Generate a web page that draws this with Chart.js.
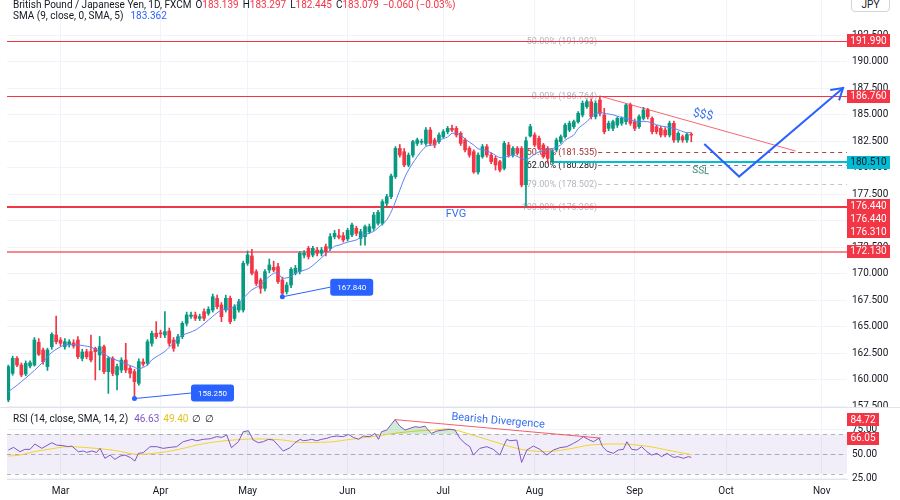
<!DOCTYPE html>
<html>
<head>
<meta charset="utf-8">
<script src="https://cdn.jsdelivr.net/npm/chart.js@4.4.1/dist/chart.umd.min.js"></script>
<style>
  html, body { margin:0; padding:0; background:#ffffff; }
  body { width:900px; height:500px; position:relative; overflow:hidden; font-family: Roboto, "Liberation Sans", Arial, sans-serif; }
  #mainWrap { position:absolute; left:0; top:0; width:900px; height:407px; }
  #rsiWrap { position:absolute; left:0; top:407px; width:900px; height:93px; }
  .lg { position:absolute; left:13px; font-size:10px; line-height:12px; color:#131722; white-space:nowrap; }
  .lg .g { margin-left:4px; }
  .dn { color:#f23645; }
  .blue { color:#2962ff; }
  .pur { color:#7e57c2; }
  .yel { color:#e3c31b; }
  #jpy { position:absolute; left:851px; top:-6px; width:39px; height:18px; border:1px solid #d1d4dc; border-radius:4px; box-sizing:border-box; font-size:10px; line-height:20px; text-align:center; color:#131722; background:#fff; }
</style>
</head>
<body>
<div id="mainWrap"><canvas id="mainChart"></canvas></div>
<div id="rsiWrap"><canvas id="rsiChart"></canvas></div>
<div class="lg" style="top:-1px">British Pound / Japanese Yen, 1D, FXCM<span class="g">O<span class="dn">183.139</span></span><span class="g">H<span class="dn">183.297</span></span><span class="g">L<span class="dn">182.445</span></span><span class="g">C<span class="dn">183.079</span></span><span class="g dn">−0.060 (−0.03%)</span></div>
<div class="lg" style="top:10px">SMA (9, close, 0, SMA, 5)<span class="g blue" style="margin-left:7px">183.362</span></div>
<div class="lg" style="top:413px">RSI (14, close, SMA, 14, 2)<span class="g pur" style="margin-left:6px">46.63</span><span class="g yel">49.40</span><span class="g">∅</span><span class="g">∅</span></div>
<div id="jpy">JPY</div>
<script>
// ---------------- data ----------------
const opens = [158.12,160.63,162.04,161.41,160.57,161.32,161.41,163.55,162.83,161.26,163.14,164.24,163.77,163.14,163.30,163.50,163.77,162.04,162.67,162.67,
162.98,162.36,163.14,160.79,162.04,160.47,160.94,161.88,161.10,160.79,159.69,161.70,161.57,163.46,164.40,164.45,164.24,164.62,163.77,163.46,
164.08,165.34,166.00,166.13,165.81,166.44,166.28,166.60,167.70,167.07,166.60,167.70,165.81,166.60,166.60,171.00,171.69,170.21,169.43,168.64,
170.37,170.62,170.68,169.43,168.33,168.95,170.05,170.21,171.78,172.41,171.78,172.25,171.94,172.57,172.41,173.51,173.60,173.60,173.30,173.67,
174.30,173.35,173.51,173.98,174.30,174.77,174.77,176.65,177.28,179.17,181.83,181.52,180.26,181.20,182.30,182.40,182.30,183.56,182.62,182.46,
182.93,183.40,183.72,183.72,183.25,182.62,181.83,181.52,179.60,181.05,181.99,181.20,180.89,180.58,179.95,182.15,181.20,181.83,181.83,178.40,
183.00,183.09,182.78,182.15,181.83,180.58,181.68,182.46,182.93,183.56,183.88,184.35,184.98,185.76,186.23,184.82,186.39,184.98,183.72,183.72,
184.03,184.19,184.35,185.92,184.35,183.88,184.66,185.45,184.66,183.88,183.72,183.56,183.09,184.19,182.62,182.93,182.62,183.139];
const highs = [161.40,162.25,162.20,161.60,161.80,161.80,164.00,163.90,163.00,163.00,164.45,166.03,164.00,163.90,163.80,163.80,164.10,162.90,162.90,164.24,
163.10,164.10,163.30,162.20,162.20,161.50,162.10,163.46,161.30,161.00,162.00,162.00,163.80,164.60,165.50,164.70,166.44,164.90,164.00,164.30,
165.50,166.40,166.40,166.40,166.20,166.70,166.90,168.10,168.00,167.30,168.00,167.90,167.10,167.60,171.20,172.16,172.32,170.40,169.60,170.40,
171.40,171.20,171.00,169.70,169.20,170.60,170.80,172.10,172.20,172.60,172.60,172.50,172.50,172.80,173.80,174.10,174.20,173.90,174.30,174.80,
174.50,174.20,174.60,174.70,175.80,176.00,177.00,177.50,179.40,182.00,182.20,181.80,181.40,182.60,182.80,182.70,183.80,183.80,182.80,183.30,
183.60,183.90,184.03,183.90,183.40,182.80,182.00,181.70,181.40,182.20,182.20,181.40,181.10,180.70,182.50,182.40,182.00,182.00,182.00,182.90,
184.10,183.30,183.00,182.30,182.00,181.70,182.80,183.10,184.20,184.40,184.50,185.30,186.30,186.40,186.50,186.30,186.76,185.60,184.40,184.50,
184.80,184.80,186.00,186.10,184.60,185.00,185.70,185.60,184.80,184.00,183.90,183.80,184.40,184.40,183.40,183.10,183.30,183.297];
const lows = [157.95,160.45,161.25,160.30,160.40,161.15,161.30,162.30,161.50,160.90,162.90,163.40,163.20,162.90,163.10,163.00,162.00,161.80,162.00,161.70,
160.00,160.94,160.60,158.74,160.40,159.06,160.70,160.70,160.20,158.25,159.50,161.30,161.40,163.20,163.90,164.00,164.00,163.20,162.70,163.20,
163.90,165.10,165.80,165.60,165.60,165.60,166.10,166.40,166.70,165.50,166.40,165.30,165.60,166.40,166.40,170.80,169.90,168.90,168.17,168.40,
170.10,170.20,169.10,167.84,168.10,168.70,169.90,170.00,171.50,171.40,171.60,171.70,171.70,171.70,172.20,173.30,173.30,173.00,173.10,173.50,
173.60,172.70,172.70,173.80,174.10,174.60,174.60,176.40,177.10,179.00,181.00,180.10,180.10,181.00,182.10,182.20,182.10,182.10,181.90,182.30,
182.80,183.20,183.40,182.90,182.10,181.50,181.00,179.48,179.40,180.90,181.00,180.40,179.79,179.60,179.80,181.00,181.00,181.20,178.20,176.31,
182.90,182.00,181.70,180.90,180.42,180.51,181.50,182.30,182.80,183.40,183.70,184.20,184.80,185.60,184.60,184.60,184.90,183.20,183.50,183.50,
183.80,184.00,184.10,184.00,183.50,183.70,184.50,184.60,183.20,183.20,182.90,182.90,182.90,182.40,182.40,182.40,182.40,182.445];
const closes = [161.26,162.04,161.41,160.47,161.57,161.63,163.77,162.42,161.73,162.83,164.30,163.61,163.46,163.61,163.60,163.20,162.20,162.64,162.20,161.89,
162.67,163.14,160.79,162.04,160.63,161.26,161.88,160.94,160.63,159.84,161.73,161.50,163.61,164.40,164.08,164.35,164.56,163.46,162.98,164.08,
165.34,166.13,166.13,165.81,165.97,165.81,166.66,167.85,166.91,165.97,167.70,165.50,166.91,167.38,171.00,171.78,170.05,169.10,168.64,170.21,
170.84,170.37,169.27,168.17,168.95,170.43,170.53,171.94,171.94,171.63,172.41,171.94,172.25,172.10,173.51,173.82,173.45,173.20,174.10,174.61,
173.82,173.98,174.45,174.45,175.55,175.80,176.81,177.28,179.23,181.83,181.20,180.26,181.20,182.46,182.62,182.50,183.56,182.30,182.15,183.09,
183.40,183.72,183.56,183.09,182.30,181.68,181.20,179.60,181.20,181.99,181.20,180.58,180.26,179.79,182.30,181.20,181.83,181.36,178.38,182.55,
183.88,182.15,181.83,181.05,180.89,181.52,182.62,182.93,184.03,184.19,184.35,185.13,186.08,186.23,184.82,186.08,185.13,183.40,184.19,184.35,
184.66,184.66,185.92,184.19,183.72,184.82,185.45,184.82,183.40,183.40,183.09,183.09,184.19,182.62,183.25,182.62,183.139,183.079];

// SMA(9): [bar, value]
const smaPts = [[0,158.9],[2,159.5],[6,160.9],[8,161.7],[10,162.6],[13,163.3],[16,163.3],[19,163.1],[20,162.9],[22,162.5],[23,162.2],[24,162.0],[26,161.7],[29,161.2],[30,161.05],[32,161.4],[33,161.9],[36,162.7],[38,163.5],[40,164.2],[43,164.7],[45,165.3],[47,166.0],[49,166.6],[51,166.75],[52,166.9],[54,167.7],[56,168.5],[58,168.95],[59,169.4],[61,170.05],[62,170.05],[63,169.6],[65,169.75],[66,170.1],[69,170.5],[71,171.15],[73,171.9],[75,172.6],[76,172.7],[78,173.0],[80,173.2],[82,173.7],[84,174.0],[85,174.35],[87,175.1],[88.5,176.3],[90,177.9],[91.6,179.5],[94,181.05],[96,182.0],[98,182.2],[99,182.6],[101,182.9],[102,183.25],[104,183.1],[105,182.7],[107,182.15],[108,181.8],[110,181.6],[111.5,181.3],[113,180.96],[114.6,181.05],[116,181.2],[117.6,180.96],[119,180.74],[120.7,181.2],[122,181.5],[124,181.7],[125,181.8],[127,182.15],[128,182.6],[130,183.1],[131,183.7],[133,184.35],[134.5,185.0],[136,185.2],[137.5,185.1],[139,185.0],[140.5,184.8],[142,184.66],[143.7,184.44],[145,184.35],[147,184.35],[148,184.2],[150,183.94],[151,183.88],[153,183.72],[154.5,183.5],[156,183.3],[157,183.36]];

// RSI(14) and its SMA(14): [bar, value]
const rsiPts = [[0,54.0],[1.2,56.7],[2.7,52.3],[3.8,54.7],[5,54.7],[6.1,60.1],[7.7,55.7],[10,61.4],[11.1,59.0],[12.6,58.4],[13.8,57.4],[14.6,58.0],[16.1,52.3],[17.3,53.0],[18,51.6],[19.2,53.0],[20.3,51.6],[21.1,55.7],[22.2,45.6],[23.4,48.9],[24.5,44.6],[25.7,47.9],[26.8,48.9],[28,46.6],[29.1,42.9],[29.9,50.6],[31,51.3],[32.6,57.4],[34.1,57.4],[35.6,55.7],[37.2,56.7],[38.7,57.4],[40.2,62.4],[42.2,64.8],[43.3,63.4],[44.8,64.8],[46.4,65.4],[47.9,67.5],[49.1,66.8],[50.2,69.2],[51.3,56.4],[52.9,62.4],[54,72.5],[55.2,73.5],[56.3,64.1],[57.5,61.4],[58.6,62.4],[59.8,64.8],[60.9,64.1],[62.1,58.4],[63.2,53.0],[64.8,56.4],[65.9,61.4],[67.1,64.8],[67.8,63.4],[69,64.1],[69.7,64.8],[70.9,63.4],[72,64.8],[73.2,65.8],[74.3,67.5],[75.5,68.1],[77,67.5],[78.2,69.8],[79.3,66.8],[80.5,64.8],[81.6,68.1],[83.1,67.5],[84.3,70.8],[85.1,64.8],[85.8,72.5],[87,74.2],[88.9,84.7],[90,78.2],[91.2,74.2],[92.3,75.9],[93.5,77.6],[94.6,76.9],[95.8,78.2],[96.2,75.9],[97.3,70.8],[98.5,73.2],[100,74.2],[101.6,74.9],[102.7,74.2],[103.8,65.8],[105,60.7],[106.1,57.4],[106.9,48.9],[108.4,55.7],[110,57.4],[111.5,54.7],[113,48.9],[113.8,57.4],[114.6,64.8],[115.3,63.4],[116.9,64.1],[118,41.5],[119.2,54.0],[120.7,58.0],[122.2,54.7],[123.8,48.9],[125.3,54.0],[126.8,56.4],[128.4,57.4],[129.9,60.7],[131,63.4],[132.2,67.5],[133.3,64.8],[134.5,62.4],[135.8,66.0],[136.6,57.4],[137.6,53.0],[139.1,50.6],[140.2,54.0],[141.4,54.7],[142.2,62.4],[143.3,54.7],[144.5,54.0],[145.6,57.4],[146.8,52.3],[147.9,48.9],[149.1,50.6],[150.2,47.3],[151.4,50.6],[152.9,46.6],[154,47.3],[155.2,45.6],[156.3,47.3],[157,46.63]];
const rsiSmaPts = [[0,47.9],[2.7,48.9],[5.8,52.3],[9.6,55.0],[13.4,57.4],[17.2,56.7],[21.1,55.3],[24.9,53.3],[28.7,50.0],[30.3,49.6],[33.3,50.6],[36.4,52.3],[40.2,55.7],[44.1,59.7],[47.9,62.4],[51.7,64.1],[55.6,65.1],[59.4,65.1],[63.2,64.1],[67.1,61.7],[70.9,61.7],[74.7,62.4],[78.6,64.8],[82.4,66.8],[86.2,69.2],[90,71.5],[93.9,73.2],[97.7,74.2],[101.6,75.2],[109.2,65.8],[116.9,55.7],[123,52.3],[128.4,54.7],[133.7,59.0],[141.4,60.1],[147.5,57.4],[151.4,54.0],[157,49.4]];

// axes
const monthTickIdx = [12,35,55,78,100,121,144,165,187];
const monthLabels = ['Mar','Apr','May','Jun','Jul','Aug','Sep','Oct','Nov'];
const priceTicks = [157.5,160,162.5,165,167.5,170,172.5,175,177.5,180,182.5,185,187.5,190,192.5];
const rsiTicks = [25,50,75];

// drawings (in bar / price units)
const levelLines = [191.99,186.76,176.44,176.31,172.13];
const levelTags = [191.99,186.76,176.44,176.44,176.31,172.13];
const supportPrice = 180.51;
const supportFromBar = 125;
const fibPrices = [191.993,186.764,181.535,180.280,178.502,176.306];
const fibRatios = ['50.00%','0.00%','50.00%','62.00%','79.00%','100.00%'];
const fibFromBar = 135.6;
const trendLine = [[136,186.76],[181,181.58]];
const projection = [[160,182.25],[168,179.17],[191.9,187.52]];
const swingLows = [[29,158.25],[63,167.84]];
const swingTagAt = [[42,158.77],[74,168.75]];
const notes = [['FVG',102.9,175.65],['$$$',159.7,184.98],['SSL',159.2,179.7]];
const divergence = [[88.9,84.72],[136.2,66.05]];
const divergenceNote = ['Bearish Divergence',112.6,83.3];
const rsiBands = [70,50,30];

// ---------------- rendering ----------------
const UP = '#089981', DOWN = '#f23645', GRID = '#f0f3fa', TXT = '#131722';
const X_MIN = -0.3, X_MAX = 192.8;
const barColors = closes.map((c,i) => c >= opens[i] ? UP : DOWN);
const noPad = s => { s.paddingTop = 0; s.paddingBottom = 0; s.paddingLeft = 0; s.paddingRight = 0; };
const FONT = 'Roboto, "Liberation Sans", Arial, sans-serif';

function tag(ctx, x, y, w, h, bg, fg, text) {
  ctx.fillStyle = bg;
  ctx.fillRect(x, Math.round(y - h/2), w, h);
  ctx.fillStyle = fg;
  ctx.font = '10px ' + FONT;
  ctx.textAlign = 'center'; ctx.textBaseline = 'middle';
  ctx.fillText(text, x + w/2, Math.round(y) + 0.5);
}
function roundRect(ctx, x, y, w, h, r) {
  ctx.beginPath();
  ctx.moveTo(x+r, y); ctx.lineTo(x+w-r, y); ctx.quadraticCurveTo(x+w, y, x+w, y+r);
  ctx.lineTo(x+w, y+h-r); ctx.quadraticCurveTo(x+w, y+h, x+w-r, y+h);
  ctx.lineTo(x+r, y+h); ctx.quadraticCurveTo(x, y+h, x, y+h-r);
  ctx.lineTo(x, y+r); ctx.quadraticCurveTo(x, y, x+r, y); ctx.closePath();
}

const fibTextColors = ['#b2b5be','#b2b5be','#9b2c2c','#131722','#b2b5be','#b2b5be'];
const fibLineColors = [null, null, '#b23a3a', '#787b86', '#c3c6cc', null];
const levelLineColors = ['#f23645','#f23645','#f23645','#f23645','rgba(242,54,69,0.6)'];
const levelLineWidths = [1,1,2,1,2];

const mainDrawings = {
  id: 'mainDrawings',
  beforeDatasetsDraw(chart) {
    const {ctx, chartArea: a, scales: {x, y}} = chart;
    const X = v => x.getPixelForValue(v), Y = v => y.getPixelForValue(v);
    ctx.save();
    ctx.beginPath(); ctx.rect(a.left, a.top, a.right - a.left, a.bottom - a.top); ctx.clip();
    ctx.lineWidth = 1;
    fibPrices.forEach((p, k) => {
      const yy = Math.round(Y(p)) + 0.5;
      if (fibLineColors[k]) {
        ctx.strokeStyle = fibLineColors[k]; ctx.setLineDash([4,4]);
        ctx.beginPath(); ctx.moveTo(X(fibFromBar), yy); ctx.lineTo(a.right, yy); ctx.stroke();
        ctx.setLineDash([]);
      }
      ctx.fillStyle = fibTextColors[k];
      ctx.font = '9px ' + FONT; ctx.textAlign = 'right'; ctx.textBaseline = 'middle';
      ctx.fillText(fibRatios[k] + ' (' + p.toFixed(3) + ')', X(fibFromBar) - 1, yy);
    });
    ctx.setLineDash([]);
    // red horizontal levels drawn as thin filled strips
    levelLines.forEach((p, k) => {
      ctx.fillStyle = levelLineColors[k];
      const yy = Math.round(Y(p));
      ctx.fillRect(a.left, yy, a.right - a.left, levelLineWidths[k]);
    });
    ctx.fillStyle = '#00bcd4';
    ctx.fillRect(X(supportFromBar), Math.round(Y(supportPrice)) - 1, a.right - X(supportFromBar), 2);
    ctx.restore();
  },
  afterDatasetsDraw(chart) {
    const {ctx, chartArea: a, scales: {x, y}} = chart;
    const X = v => x.getPixelForValue(v), Y = v => y.getPixelForValue(v);
    ctx.save();
    ctx.beginPath(); ctx.rect(a.left, a.top, a.right - a.left, a.bottom - a.top); ctx.clip();
    ctx.strokeStyle = 'rgba(242,54,69,0.75)'; ctx.lineWidth = 1;
    ctx.beginPath(); ctx.moveTo(X(trendLine[0][0]), Y(trendLine[0][1])); ctx.lineTo(X(trendLine[1][0]), Y(trendLine[1][1])); ctx.stroke();
    ctx.strokeStyle = '#2962ff'; ctx.lineWidth = 2; ctx.lineJoin = 'miter';
    ctx.beginPath();
    projection.forEach((pt, k) => { const px = X(pt[0]), py = Y(pt[1]); k ? ctx.lineTo(px, py) : ctx.moveTo(px, py); });
    ctx.stroke();
    const n = projection.length;
    const tx = X(projection[n-1][0]), ty = Y(projection[n-1][1]);
    const ang = Math.atan2(ty - Y(projection[n-2][1]), tx - X(projection[n-2][0]));
    ctx.beginPath();
    ctx.moveTo(tx + 13*Math.cos(ang + Math.PI - 0.55), ty + 13*Math.sin(ang + Math.PI - 0.55));
    ctx.lineTo(tx, ty);
    ctx.lineTo(tx + 13*Math.cos(ang + Math.PI + 0.55), ty + 13*Math.sin(ang + Math.PI + 0.55));
    ctx.stroke();
    const noteStyle = [['#3b6ff0','11px',0],['#3b6ff0','12px',0.2],['#3a8c75','10px',0.08]];
    notes.forEach((nt, k) => {
      ctx.save();
      ctx.translate(X(nt[1]), Y(nt[2]));
      ctx.rotate(noteStyle[k][2]);
      ctx.fillStyle = noteStyle[k][0]; ctx.font = noteStyle[k][1] + ' ' + FONT;
      ctx.textAlign = 'center'; ctx.textBaseline = 'middle';
      ctx.fillText(nt[0], 0, 0);
      ctx.restore();
    });
    swingLows.forEach((s, k) => {
      const dx = X(s[0]), dy = Y(s[1]);
      const bx = X(swingTagAt[k][0]), by = Y(swingTagAt[k][1]);
      ctx.strokeStyle = '#2962ff'; ctx.lineWidth = 1;
      ctx.beginPath(); ctx.moveTo(dx, dy); ctx.lineTo(bx, by); ctx.stroke();
      ctx.fillStyle = '#2962ff';
      ctx.beginPath(); ctx.arc(dx, dy, 2.5, 0, Math.PI*2); ctx.fill();
      ctx.font = '8px ' + FONT;
      const label = s[1].toFixed(3);
      const w = Math.round(ctx.measureText(label).width) + 14, h = 17;
      roundRect(ctx, bx, by - h/2, w, h, 3); ctx.fill();
      ctx.fillStyle = '#ffffff'; ctx.textAlign = 'center'; ctx.textBaseline = 'middle';
      ctx.fillText(label, bx + w/2, by + 0.5);
    });
    ctx.restore();
  },
  afterDraw(chart) {
    const {ctx, chartArea: a, scales: {y}} = chart;
    const h = 13, w = 43;
    const ys = levelTags.map(p => ({p, y: y.getPixelForValue(p)})).sort((m, n) => m.y - n.y);
    let prev = -100;
    ys.forEach(t => {
      let yy = t.y;
      if (yy - prev < h) yy = prev + h;
      prev = yy;
      tag(ctx, a.right, yy, w, h, '#f23645', '#ffffff', t.p.toFixed(3));
    });
    tag(ctx, a.right, y.getPixelForValue(supportPrice), w, h, '#00bcd4', TXT, supportPrice.toFixed(3));
  }
};

const rsiDrawings = {
  id: 'rsiDrawings',
  beforeDatasetsDraw(chart) {
    const {ctx, chartArea: a, scales: {y}} = chart;
    const Y = v => y.getPixelForValue(v);
    ctx.save();
    ctx.fillStyle = 'rgba(126,87,194,0.1)';
    ctx.fillRect(a.left, Y(rsiBands[0]), a.right - a.left, Y(rsiBands[2]) - Y(rsiBands[0]));
    ctx.strokeStyle = 'rgba(120,123,134,0.55)'; ctx.lineWidth = 1; ctx.setLineDash([4,4]);
    rsiBands.forEach(b => {
      const yy = Math.round(Y(b)) + 0.5;
      ctx.beginPath(); ctx.moveTo(a.left, yy); ctx.lineTo(a.right, yy); ctx.stroke();
    });
    ctx.restore();
  },
  afterDatasetsDraw(chart) {
    const {ctx, chartArea: a, scales: {x, y}} = chart;
    const X = v => x.getPixelForValue(v), Y = v => y.getPixelForValue(v);
    ctx.save();
    ctx.strokeStyle = 'rgba(242,54,69,0.8)'; ctx.lineWidth = 1;
    ctx.beginPath(); ctx.moveTo(X(divergence[0][0]), Y(divergence[0][1])); ctx.lineTo(X(divergence[1][0]), Y(divergence[1][1])); ctx.stroke();
    ctx.translate(X(divergenceNote[1]), Y(divergenceNote[2]));
    ctx.rotate(0.085);
    ctx.fillStyle = '#3b6ff0'; ctx.font = '11px ' + FONT; ctx.textAlign = 'center'; ctx.textBaseline = 'middle';
    ctx.fillText(divergenceNote[0], 0, 0);
    ctx.restore();
  },
  afterDraw(chart) {
    const {ctx, chartArea: a, scales: {y}} = chart;
    ctx.save();
    ctx.strokeStyle = '#e0e3eb'; ctx.lineWidth = 1;
    ctx.beginPath(); ctx.moveTo(0, 0.5); ctx.lineTo(chart.width, 0.5); ctx.stroke();
    ctx.restore();
    divergence.forEach(d => tag(ctx, a.right, y.getPixelForValue(d[1]), 32, 13, '#f23645', '#ffffff', d[1].toFixed(2)));
  }
};

const xMonthTicks = s => { s.ticks = monthTickIdx.map(v => ({value: v})); };

new Chart(document.getElementById('mainChart'), {
  type: 'bar',
  data: {
    datasets: [
      { type: 'bar', label: 'wick', data: highs.map((h, i) => ({x: i, y: [lows[i], h]})), backgroundColor: barColors, barThickness: 1, grouped: false, order: 3 },
      { type: 'bar', label: 'body', data: opens.map((o, i) => ({x: i, y: [o, closes[i]]})), backgroundColor: barColors, barThickness: 3, minBarLength: 1, grouped: false, order: 2 },
      { type: 'line', label: 'SMA 9', data: smaPts.map(p => ({x: p[0], y: p[1]})), borderColor: '#5b83f5', borderWidth: 1, pointRadius: 0, tension: 0.3, order: 1 }
    ]
  },
  options: {
    responsive: true, maintainAspectRatio: false, animation: false, devicePixelRatio: 1,
    layout: { padding: { left: 7, right: 0, top: 0, bottom: 0 } },
    plugins: { legend: { display: false }, tooltip: { enabled: false } },
    scales: {
      x: { type: 'linear', min: X_MIN, max: X_MAX, offset: false, afterBuildTicks: xMonthTicks,
           ticks: { display: false }, grid: { color: GRID, drawTicks: false, offset: false }, border: { display: false },
           afterFit: s => { s.height = 0; noPad(s); } },
      y: { position: 'right', min: 157.455, max: 195.815,
           afterBuildTicks: s => { s.ticks = priceTicks.map(v => ({value: v})); },
           ticks: { callback: v => v.toFixed(3), color: TXT, font: { family: FONT, size: 10 }, padding: 5 },
           grid: { color: GRID, drawTicks: false }, border: { display: false },
           afterFit: s => { s.width = 53; noPad(s); } }
    }
  },
  plugins: [mainDrawings]
});

new Chart(document.getElementById('rsiChart'), {
  type: 'line',
  data: {
    datasets: [
      { label: 'RSI', data: rsiPts.map(p => ({x: p[0], y: p[1]})), borderColor: '#7e57c2', borderWidth: 1, pointRadius: 0,
        fill: { target: { value: 70 }, above: 'rgba(76,175,80,0.25)', below: 'rgba(0,0,0,0)' } },
      { label: 'RSI MA', data: rsiSmaPts.map(p => ({x: p[0], y: p[1]})), borderColor: '#f2d32a', borderWidth: 1, pointRadius: 0, tension: 0.3 }
    ]
  },
  options: {
    responsive: true, maintainAspectRatio: false, animation: false, devicePixelRatio: 1,
    layout: { padding: { left: 7, right: 0, top: 0, bottom: 0 } },
    plugins: { legend: { display: false }, tooltip: { enabled: false } },
    scales: {
      x: { type: 'linear', min: X_MIN, max: X_MAX, offset: false, afterBuildTicks: xMonthTicks,
           ticks: { autoSkip: false, maxRotation: 0, callback: (v, i) => monthLabels[i], color: TXT, font: { family: FONT, size: 10 }, padding: 6 },
           grid: { color: GRID, drawTicks: false, offset: false }, border: { display: true, color: '#e0e3eb' },
           afterFit: s => { s.height = 21; noPad(s); } },
      y: { position: 'right', min: 24.75, max: 97.47,
           afterBuildTicks: s => { s.ticks = rsiTicks.map(v => ({value: v})); },
           ticks: { callback: v => v.toFixed(2), color: TXT, font: { family: FONT, size: 10 }, padding: 5 },
           grid: { color: GRID, drawTicks: false }, border: { display: false },
           afterFit: s => { s.width = 53; noPad(s); } }
    }
  },
  plugins: [rsiDrawings]
});
</script>
</body>
</html>
